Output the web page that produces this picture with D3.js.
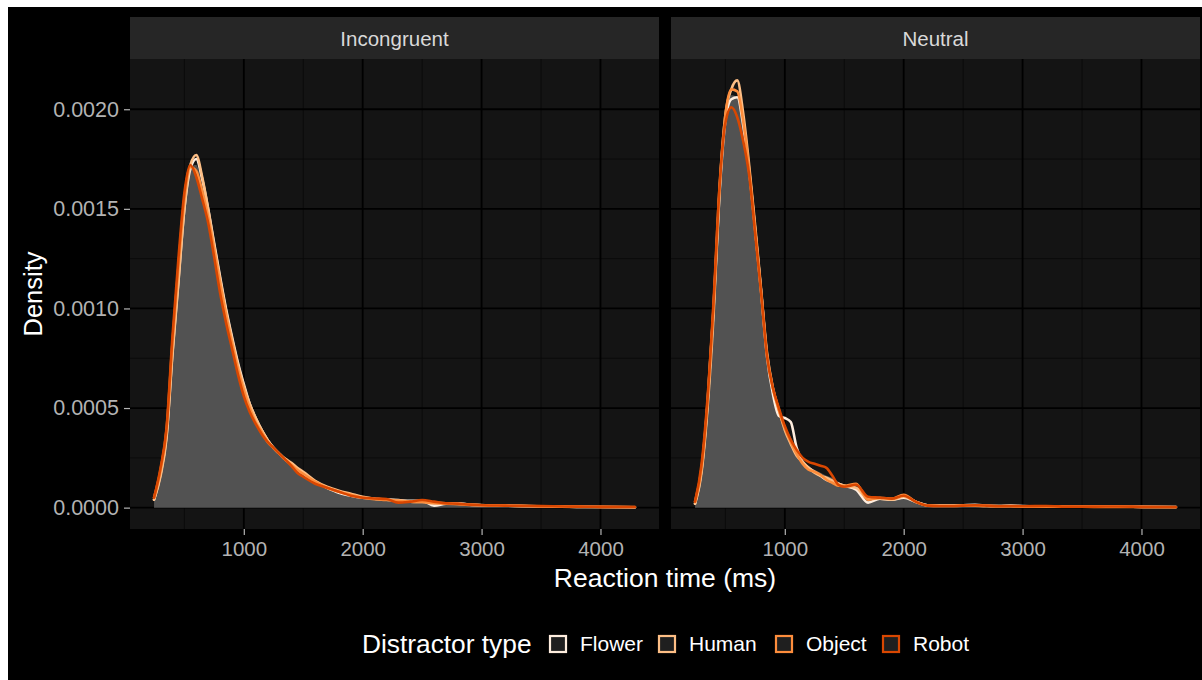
<!DOCTYPE html>
<html>
<head>
<meta charset="utf-8">
<script src="https://cdn.jsdelivr.net/npm/d3@7"></script>
<style>
  html, body { margin: 0; padding: 0; background: #fff; }
  text { font-family: "Liberation Sans", Arial, Helvetica, sans-serif; }
</style>
</head>
<body>
<script>
// reaction time grid (ms) that every density series is read on
const rt = [245, 300, 350, 400, 450, 500, 550, 600, 650, 700, 750, 800, 850, 900, 950,
  1000, 1050, 1100, 1150, 1200, 1250, 1300, 1350, 1400, 1450, 1500, 1600, 1700, 1800, 1900,
  2000, 2100, 2200, 2300, 2400, 2500, 2600, 2700, 2800, 2900, 3000, 3200, 3400, 3600, 3800, 4000, 4290];

const panels = ["Incongruent", "Neutral"];
const distractors = ["Flower", "Human", "Object", "Robot"];
const colors = ["#FEEDDE", "#FDBE85", "#FD8D3C", "#D94701"];

// Incongruent densities
const incFlower = [.4e-4, 1.7e-4, 3.6e-4, 7.8e-4, 11.4e-4, 15.0e-4, 17.0e-4, 17.5e-4, 16.5e-4, 15.0e-4, 13.3e-4, 11.6e-4, 10.0e-4, 8.6e-4, 7.3e-4,
  6.2e-4, 5.2e-4, 4.5e-4, 3.9e-4, 3.4e-4, 3.0e-4, 2.7e-4, 2.4e-4, 2.2e-4, 1.9e-4, 1.7e-4, 1.3e-4, 1.0e-4, .75e-4, .6e-4,
  .5e-4, .45e-4, .4e-4, .38e-4, .34e-4, .34e-4, .1e-4, .2e-4, .22e-4, .15e-4, .12e-4, .1e-4, .07e-4, .05e-4, .04e-4, .03e-4, .02e-4];
const incHuman = [.4e-4, 1.6e-4, 3.5e-4, 7.7e-4, 11.3e-4, 15.0e-4, 17.2e-4, 17.7e-4, 16.6e-4, 15.0e-4, 13.2e-4, 11.5e-4, 9.9e-4, 8.5e-4, 7.2e-4,
  6.1e-4, 5.2e-4, 4.5e-4, 3.9e-4, 3.4e-4, 3.0e-4, 2.7e-4, 2.45e-4, 2.25e-4, 2.0e-4, 1.8e-4, 1.35e-4, 1.05e-4, .85e-4, .7e-4,
  .55e-4, .45e-4, .4e-4, .35e-4, .3e-4, .28e-4, .25e-4, .22e-4, .2e-4, .16e-4, .13e-4, .1e-4, .08e-4, .06e-4, .04e-4, .03e-4, .02e-4];
const incObject = [.5e-4, 1.9e-4, 3.9e-4, 8.3e-4, 12.1e-4, 15.5e-4, 17.1e-4, 16.9e-4, 15.9e-4, 14.6e-4, 13.0e-4, 11.3e-4, 9.7e-4, 8.3e-4, 7.0e-4,
  5.9e-4, 5.0e-4, 4.3e-4, 3.8e-4, 3.3e-4, 3.0e-4, 2.7e-4, 2.4e-4, 2.15e-4, 1.9e-4, 1.7e-4, 1.3e-4, 1.0e-4, .8e-4, .65e-4,
  .5e-4, .42e-4, .38e-4, .35e-4, .3e-4, .28e-4, .22e-4, .2e-4, .17e-4, .14e-4, .12e-4, .1e-4, .08e-4, .06e-4, .05e-4, .04e-4, .03e-4];
const incRobot = [.5e-4, 2.0e-4, 4.0e-4, 8.6e-4, 12.5e-4, 15.8e-4, 17.2e-4, 16.6e-4, 15.5e-4, 14.3e-4, 12.6e-4, 10.8e-4, 9.3e-4, 8.0e-4, 6.7e-4,
  5.6e-4, 4.8e-4, 4.2e-4, 3.7e-4, 3.3e-4, 3.0e-4, 2.7e-4, 2.4e-4, 2.1e-4, 1.75e-4, 1.55e-4, 1.2e-4, 1.0e-4, .8e-4, .6e-4,
  .5e-4, .46e-4, .43e-4, .25e-4, .3e-4, .38e-4, .3e-4, .22e-4, .2e-4, .15e-4, .12e-4, .1e-4, .08e-4, .07e-4, .05e-4, .04e-4, .03e-4];
const incAll = [.45e-4, 1.8e-4, 3.75e-4, 8.1e-4, 11.8e-4, 15.3e-4, 17.1e-4, 17.2e-4, 16.1e-4, 14.7e-4, 13.0e-4, 11.3e-4, 9.7e-4, 8.35e-4, 7.05e-4,
  5.95e-4, 5.05e-4, 4.35e-4, 3.8e-4, 3.35e-4, 3.0e-4, 2.7e-4, 2.4e-4, 2.2e-4, 1.9e-4, 1.7e-4, 1.3e-4, 1.0e-4, .8e-4, .64e-4,
  .52e-4, .45e-4, .4e-4, .33e-4, .32e-4, .32e-4, .22e-4, .21e-4, .2e-4, .15e-4, .12e-4, .1e-4, .08e-4, .06e-4, .05e-4, .04e-4, .03e-4];

// Neutral densities
const neuFlower = [.2e-4, 1.9e-4, 5.2e-4, 9.9e-4, 15.7e-4, 19.4e-4, 20.5e-4, 20.6e-4, 19.2e-4, 16.9e-4, 14.0e-4, 10.9e-4, 7.6e-4, 5.7e-4, 4.6e-4,
  4.5e-4, 4.3e-4, 3.0e-4, 2.3e-4, 2.0e-4, 1.8e-4, 1.6e-4, 1.4e-4, 1.3e-4, 1.2e-4, 1.1e-4, .9e-4, .25e-4, .45e-4, .4e-4,
  .5e-4, .3e-4, .12e-4, .1e-4, .1e-4, .12e-4, .14e-4, .1e-4, .08e-4, .1e-4, .08e-4, .06e-4, .06e-4, .05e-4, .05e-4, .04e-4, .03e-4];
const neuHuman = [.2e-4, 1.8e-4, 5.0e-4, 9.6e-4, 15.8e-4, 19.7e-4, 21.0e-4, 21.45e-4, 19.8e-4, 17.2e-4, 14.2e-4, 11.0e-4, 7.8e-4, 6.0e-4, 4.9e-4,
  3.9e-4, 3.2e-4, 2.6e-4, 2.3e-4, 2.0e-4, 1.75e-4, 1.6e-4, 1.5e-4, 1.35e-4, 1.2e-4, 1.1e-4, 1.0e-4, .45e-4, .45e-4, .4e-4,
  .55e-4, .3e-4, .12e-4, .1e-4, .1e-4, .12e-4, .1e-4, .08e-4, .08e-4, .08e-4, .06e-4, .06e-4, .06e-4, .05e-4, .05e-4, .04e-4, .03e-4];
const neuObject = [.3e-4, 2.0e-4, 5.3e-4, 10.0e-4, 16.0e-4, 19.7e-4, 21.0e-4, 20.9e-4, 19.4e-4, 17.0e-4, 14.0e-4, 10.9e-4, 7.7e-4, 6.0e-4, 4.9e-4,
  4.0e-4, 3.3e-4, 2.7e-4, 2.2e-4, 1.9e-4, 1.8e-4, 1.65e-4, 1.4e-4, 1.25e-4, 1.1e-4, 1.1e-4, 1.2e-4, .4e-4, .5e-4, .45e-4,
  .65e-4, .3e-4, .1e-4, .08e-4, .08e-4, .1e-4, .1e-4, .08e-4, .07e-4, .07e-4, .06e-4, .05e-4, .05e-4, .04e-4, .04e-4, .03e-4, .02e-4];
const neuRobot = [.3e-4, 2.2e-4, 5.5e-4, 10.3e-4, 16.0e-4, 19.3e-4, 20.1e-4, 19.6e-4, 18.4e-4, 16.7e-4, 13.8e-4, 10.8e-4, 7.6e-4, 6.0e-4, 5.0e-4,
  4.1e-4, 3.4e-4, 2.9e-4, 2.5e-4, 2.3e-4, 2.2e-4, 2.1e-4, 2.0e-4, 1.6e-4, 1.15e-4, 1.05e-4, 1.15e-4, .55e-4, .5e-4, .45e-4,
  .6e-4, .3e-4, .1e-4, .08e-4, .08e-4, .1e-4, .12e-4, .1e-4, .07e-4, .08e-4, .07e-4, .08e-4, .05e-4, .05e-4, .06e-4, .04e-4, .03e-4];
const neuAll = [.25e-4, 2.0e-4, 5.25e-4, 9.95e-4, 15.9e-4, 19.5e-4, 20.7e-4, 20.6e-4, 19.2e-4, 16.95e-4, 14.0e-4, 10.9e-4, 7.7e-4, 5.9e-4, 4.85e-4,
  4.15e-4, 3.55e-4, 2.8e-4, 2.35e-4, 2.05e-4, 1.9e-4, 1.75e-4, 1.6e-4, 1.5e-4, 1.3e-4, 1.1e-4, .9e-4, .47e-4, .48e-4, .43e-4,
  .57e-4, .3e-4, .11e-4, .09e-4, .09e-4, .11e-4, .11e-4, .09e-4, .08e-4, .08e-4, .07e-4, .06e-4, .05e-4, .05e-4, .05e-4, .04e-4, .03e-4];

const xTicks = [1000, 2000, 3000, 4000];
const xMinor = [500, 1500, 2500, 3500];
const yTicks = [0, 0.0005, 0.0010, 0.0015, 0.0020];
const yMinor = [0.00025, 0.00075, 0.00125, 0.00175];

const panelSeries = {
  Incongruent: { all: incAll, lines: [incFlower, incHuman, incObject, incRobot] },
  Neutral: { all: neuAll, lines: [neuFlower, neuHuman, neuObject, neuRobot] }
};

// --- layout ---
const W = 1202, H = 680;
const panelX = [130, 671], panelW = 529;
const panelTop = 59, panelH = 470, stripTop = 17;

const svg = d3.select("body").append("svg").attr("width", W).attr("height", H);
svg.append("rect").attr("x", 8).attr("y", 7).attr("width", W - 8).attr("height", H - 7).attr("fill", "#000");

// ggplot-like 5% expansion
const xExt = d3.extent(rt), xPad = (xExt[1] - xExt[0]) * 0.05;
const x = d3.scaleLinear().domain([xExt[0] - xPad, xExt[1] + xPad]).range([0, panelW]);
const yMax = d3.max([incAll, incFlower, incHuman, incObject, incRobot, neuAll, neuFlower, neuHuman, neuObject, neuRobot].flat());
const y = d3.scaleLinear().domain([-yMax * 0.05, yMax * 1.05]).range([panelH, 0]);

const line = d3.line().x((d, i) => x(rt[i])).y(d => y(d)).curve(d3.curveMonotoneX);
const area = d3.area().x((d, i) => x(rt[i])).y0(y(0)).y1(d => y(d)).curve(d3.curveMonotoneX);

panels.forEach((name, p) => {
  const g = svg.append("g").attr("transform", `translate(${panelX[p]},${panelTop})`);
  g.append("rect").attr("width", panelW).attr("height", panelH).attr("fill", "#141414");

  // minor grid
  g.selectAll(".xmin").data(xMinor.filter(v => x(v) <= panelW)).enter().append("line")
    .attr("x1", d => x(d)).attr("x2", d => x(d)).attr("y1", 0).attr("y2", panelH)
    .attr("stroke", "#0a0a0a").attr("stroke-width", 0.9);
  g.selectAll(".ymin").data(yMinor).enter().append("line")
    .attr("y1", d => y(d)).attr("y2", d => y(d)).attr("x1", 0).attr("x2", panelW)
    .attr("stroke", "#0a0a0a").attr("stroke-width", 0.9);
  // major grid
  g.selectAll(".xmaj").data(xTicks).enter().append("line")
    .attr("x1", d => x(d)).attr("x2", d => x(d)).attr("y1", 0).attr("y2", panelH)
    .attr("stroke", "#000").attr("stroke-width", 1.8);
  g.selectAll(".ymaj").data(yTicks).enter().append("line")
    .attr("y1", d => y(d)).attr("y2", d => y(d)).attr("x1", 0).attr("x2", panelW)
    .attr("stroke", "#000").attr("stroke-width", 1.8);

  const s = panelSeries[name];
  g.append("path").datum(s.all).attr("d", area).attr("fill", "#525252");
  s.lines.forEach((vals, k) => {
    g.append("path").datum(vals).attr("d", line)
      .attr("fill", "none").attr("stroke", colors[k]).attr("stroke-width", 2.6)
      .attr("stroke-linejoin", "round").attr("stroke-linecap", "round");
  });

  // strip
  svg.append("rect").attr("x", panelX[p]).attr("y", stripTop).attr("width", panelW).attr("height", panelTop - stripTop)
    .attr("fill", "#262626");
  svg.append("text").attr("x", panelX[p] + panelW / 2).attr("y", 46).attr("text-anchor", "middle")
    .attr("font-size", 20.5).attr("fill", "#d9d9d9").text(name);

  // x axis
  const xa = svg.append("g").attr("transform", `translate(${panelX[p]},${panelTop + panelH})`)
    .call(d3.axisBottom(x).tickValues(xTicks).tickSize(6).tickPadding(6).tickFormat(d3.format("d")));
  xa.select(".domain").remove();
  xa.selectAll("line").attr("stroke", "#b3b3b3").attr("stroke-width", 1.2);
  xa.selectAll("text").attr("fill", "#b3b3b3").attr("font-size", 20.5)
    .attr("font-family", "'Liberation Sans', Arial, sans-serif");
});

// y axis (left panel only)
const ya = svg.append("g").attr("transform", `translate(${panelX[0]},${panelTop})`)
  .call(d3.axisLeft(y).tickValues(yTicks).tickSize(6).tickPadding(5).tickFormat(d3.format(".4f")));
ya.select(".domain").remove();
ya.selectAll("line").attr("stroke", "#b3b3b3").attr("stroke-width", 1.2);
ya.selectAll("text").attr("fill", "#b3b3b3").attr("font-size", 21.5)
  .attr("font-family", "'Liberation Sans', Arial, sans-serif");

// axis titles
svg.append("text").attr("transform", `translate(42,${panelTop + panelH / 2}) rotate(-90)`)
  .attr("text-anchor", "middle").attr("font-size", 25.5).attr("fill", "#fff").text("Density");
svg.append("text").attr("x", (panelX[0] + panelX[1] + panelW) / 2).attr("y", 587)
  .attr("text-anchor", "middle").attr("font-size", 26.5).attr("fill", "#fff").text("Reaction time (ms)");

// legend
svg.append("text").attr("x", 362).attr("y", 653).attr("font-size", 26.3).attr("fill", "#fff").text("Distractor type");
const keyX = [550, 659, 776, 883];
distractors.forEach((d, k) => {
  svg.append("rect").attr("x", keyX[k]).attr("y", 636).attr("width", 16).attr("height", 16)
    .attr("fill", "#1f1f1f").attr("stroke", colors[k]).attr("stroke-width", 2.2);
  svg.append("text").attr("x", keyX[k] + 30).attr("y", 651).attr("font-size", 21).attr("fill", "#fff").text(d);
});
</script>
</body>
</html>
